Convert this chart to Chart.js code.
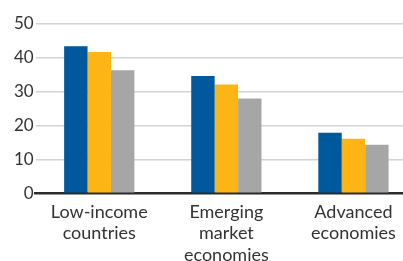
<!DOCTYPE html>
<html>
<head>
<meta charset="utf-8">
<script src="https://cdn.jsdelivr.net/npm/chart.js@4.4.1/dist/chart.umd.min.js"></script>
<style>
  html, body { margin:0; padding:0; background:#fff; overflow:hidden; }
  #wrap { width:417px; height:274px; }
</style>
</head>
<body>
<div id="wrap"><canvas id="chart" width="417" height="274"></canvas></div>
<script>
// categories and series
const categories = [
  ['Low-income', 'countries'],
  ['Emerging', 'market', 'economies'],
  ['Advanced', 'economies']
];
const seriesBlue = [43.4, 34.6, 17.9];
const seriesYellow = [41.7, 32.1, 16.1];
const seriesGray = [36.3, 28.0, 14.3];
const yTicks = [0, 10, 20, 30, 40, 50];

const FONT = 'Lato, "Open Sans", sans-serif';

const ctx = document.getElementById('chart').getContext('2d');
new Chart(ctx, {
  type: 'bar',
  data: {
    labels: categories,
    datasets: [
      { label: 'Series 1', data: seriesBlue, backgroundColor: '#00599c' },
      { label: 'Series 2', data: seriesYellow, backgroundColor: '#fdb515' },
      { label: 'Series 3', data: seriesGray, backgroundColor: '#a6a6a6' }
    ]
  },
  options: {
    responsive: false,
    animation: false,
    layout: { padding: { top: 24, left: 12, right: 0, bottom: 0 } },
    datasets: { bar: { barPercentage: 1.0, categoryPercentage: 0.553 } },
    plugins: { legend: { display: false }, tooltip: { enabled: false } },
    scales: {
      x: {
        grid: { display: false, drawTicks: false },
        border: { display: true, color: '#2b2b2b', width: 2.5 },
        ticks: {
          color: '#333',
          padding: 8,
          maxRotation: 0,
          autoSkip: false,
          font: { family: FONT, size: 18, lineHeight: 1.2 }
        }
      },
      y: {
        min: 0,
        max: 50,
        afterBuildTicks: axis => { axis.ticks = yTicks.map(v => ({ value: v })); },
        grid: { color: '#d3d3d3', lineWidth: 1.5, drawTicks: false },
        border: { display: false },
        ticks: {
          color: '#333',
          padding: 2,
          font: { family: FONT, size: 17 }
        }
      }
    }
  }
});
</script>
</body>
</html>
